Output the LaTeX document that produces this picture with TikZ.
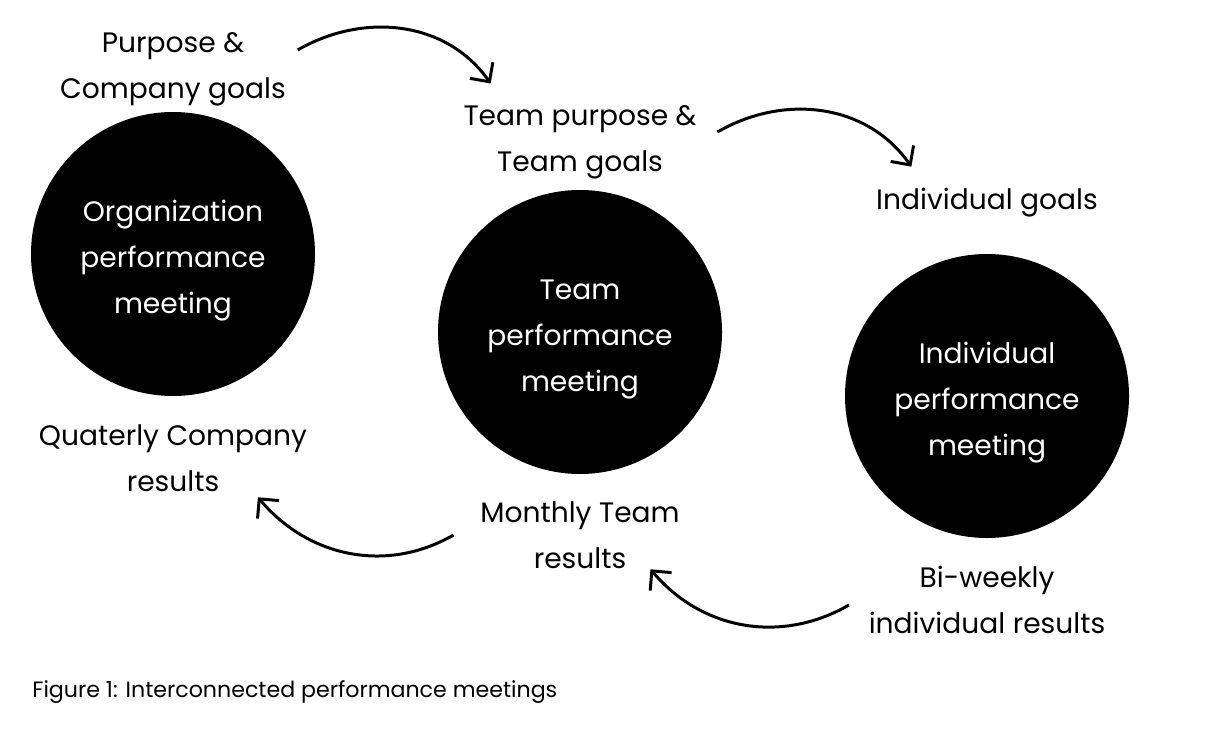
\documentclass[tikz,border=0pt]{standalone}
\usepackage{fontspec}
\setmainfont{Poppins}
\usetikzlibrary{positioning, arrows.meta}
\tikzset{
  meet/.style={circle, fill=black, text=white, minimum size=56.8mm, inner sep=0pt,
    text height=71.5pt, align=center, font=\fontsize{16}{26}\selectfont},
  lbl/.style={align=center, inner sep=2pt, font=\fontsize{16}{26}\selectfont},
  figcap/.style={anchor=west, inner sep=0pt, font=\fontsize{12.6}{15}\selectfont},
  flow/.style={-{Straight Barb[length=2.8mm, width=5.6mm]}, line width=1.7pt},
}
\begin{document}
\begin{tikzpicture}
    \useasboundingbox (0,0) rectangle (24.52,-14.64);
    \node[meet] (org) at (3.46,-5.08) {Organization\\performance\\meeting};
    \node[meet] (team) at (11.6,-6.64) {Team\\performance\\meeting};
    \node[meet] (indiv) at (19.74,-7.92) {Individual\\performance\\meeting};
    \node[lbl] (purpose) at (3.46,-1.38) {Purpose \&\\Company goals};
    \node[lbl] (teamgoals) at (11.6,-2.84) {Team purpose \&\\Team goals};
    \node[lbl] (indivgoals) at (19.74,-4.06) {Individual goals};
    \node[lbl] (quarterly) at (3.46,-9.16) {Quaterly Company\\results};
    \node[lbl] (monthly) at (11.6,-10.70) {Monthly Team\\results};
    \node[lbl] (biweekly) at (19.74,-12.0) {Bi-weekly\\individual results};
    \node[figcap] (fig) at (0.64,-13.84) {Figure 1: Interconnected performance meetings};
    \draw[flow] ([shift={(0.16,0.38)}]purpose.east) to[out=30, in=125] ([shift={(0.62,0.36)}]teamgoals.north west);
    \draw[flow] ([shift={(0.34,0.20)}]teamgoals.east) to[out=30, in=125] ([shift={(0.78,0.36)}]indivgoals.north west);
    \draw[flow] ([shift={(-0.46,0)}]monthly.west) to[out=210, in=-50] ([shift={(-1.06,-0.04)}]quarterly.south east);
    \draw[flow] ([shift={(-0.32,-0.1)}]biweekly.west) to[out=210, in=-50] ([shift={(-0.66,0.06)}]monthly.south east);
\end{tikzpicture}
\end{document}
